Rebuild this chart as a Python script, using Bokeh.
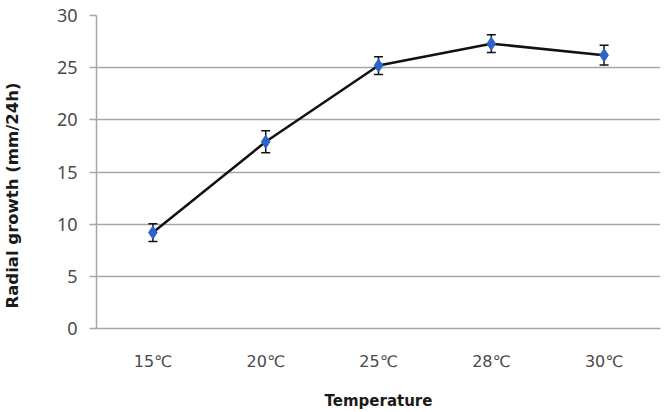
from bokeh.plotting import figure
from bokeh.models import ColumnDataSource, Whisker, FixedTicker, TeeHead, Title
from bokeh.embed import file_html
from bokeh.resources import INLINE

# Radial growth of the culture at each incubation temperature
temperatures = ["15℃", "20℃", "25℃", "28℃", "30℃"]
growth = [9.2, 17.9, 25.2, 27.3, 26.2]
error = [0.85, 1.05, 0.85, 0.85, 0.95]

src = ColumnDataSource(dict(
    t=temperatures,
    g=growth,
    lo=[g - e for g, e in zip(growth, error)],
    hi=[g + e for g, e in zip(growth, error)],
))

p = figure(
    x_range=temperatures, y_range=(0, 30),
    width=668, height=412,
    output_backend="svg", toolbar_location=None,
    min_border_left=95, min_border_right=8, min_border_top=15, min_border_bottom=84,
)
p.outline_line_color = None
p.background_fill_color = "white"

grid_col = "#a6a6a6"
p.xgrid.grid_line_color = None
p.ygrid.grid_line_color = grid_col
p.ygrid.grid_line_width = 1.5

p.yaxis.ticker = FixedTicker(ticks=[0, 5, 10, 15, 20, 25, 30])
p.yaxis.axis_line_color = grid_col
p.yaxis.axis_line_width = 1.5
p.yaxis.major_tick_line_color = grid_col
p.yaxis.major_tick_line_width = 1.5
p.yaxis.major_tick_out = 7
p.yaxis.major_tick_in = 0
p.yaxis.minor_tick_line_color = None
p.yaxis.major_label_text_font = "Noto Sans"
p.yaxis.major_label_text_font_size = "18px"
p.yaxis.major_label_text_color = "#4a4a4a"
p.yaxis.major_label_standoff = 12
# blank axis label used only as a gap between the tick labels and the title
p.yaxis.axis_label = " "
p.yaxis.axis_label_text_font_size = "1px"
p.yaxis.axis_label_standoff = 24

# vertical axis title, sitting low beside the value axis
p.add_layout(Title(
    text="Radial growth (mm/24h)", align="left", offset=20,
    vertical_align="top", standoff=4,
    text_font="DejaVu Sans", text_font_style="bold", text_font_size="16.5px",
    text_color="#1a1a1a",
), "left")

p.xaxis.axis_line_color = grid_col
p.xaxis.axis_line_width = 1.5
p.xaxis.major_tick_line_color = None
p.xaxis.minor_tick_line_color = None
p.xaxis.major_label_text_font = "DejaVu Sans"
p.xaxis.major_label_text_font_size = "16px"
p.xaxis.major_label_text_color = "#4a4a4a"
p.xaxis.major_label_standoff = 17
p.xaxis.axis_label = "Temperature"
p.xaxis.axis_label_text_font = "DejaVu Sans"
p.xaxis.axis_label_text_font_style = "bold"
p.xaxis.axis_label_text_font_size = "15px"
p.xaxis.axis_label_text_color = "#1a1a1a"
p.xaxis.axis_label_standoff = 18

p.line("t", "g", source=src, line_color="#111111", line_width=2.5)

whisk = Whisker(
    base="t", lower="lo", upper="hi", source=src,
    line_color="#111111", line_width=1.5,
    upper_head=TeeHead(size=9, line_color="#111111", line_width=1.5),
    lower_head=TeeHead(size=9, line_color="#111111", line_width=1.5),
)
p.add_layout(whisk)

p.scatter("t", "g", source=src, marker="diamond", size=13,
          fill_color="#2e64c8", line_color="#2e64c8")

open("out.html", "w").write(file_html(p, INLINE))
